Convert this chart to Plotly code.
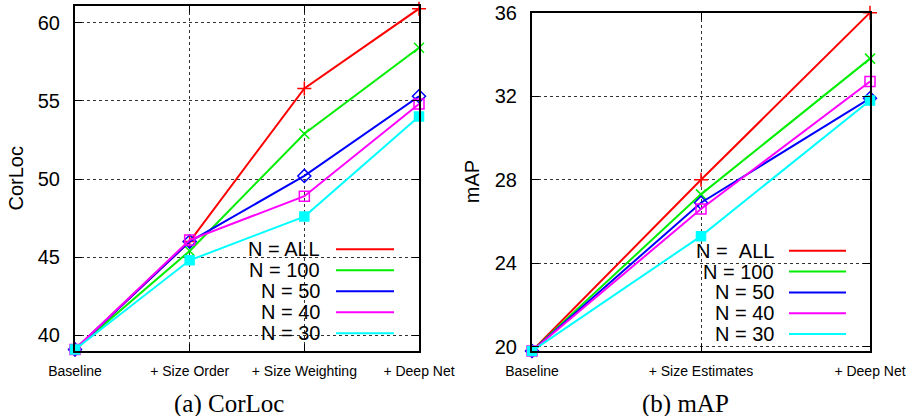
import plotly.graph_objects as go

# ---------------- data ----------------
series_names = ["N = ALL", "N = 100", "N = 50", "N = 40", "N = 30"]
legend_names_b = ["N =\u00a0\u00a0ALL", "N = 100", "N = 50", "N = 40", "N = 30"]
colors = ["#ff0000", "#00ee00", "#0000ff", "#ff00ff", "#00ffff"]
symbols = ["cross-thin-open", "x-thin-open", "diamond-open", "square-open", "square"]

cats_a = ["Baseline", "+ Size Order", "+ Size Weighting", "+ Deep Net"]
corloc_all = [39.1, 46.0, 55.8, 60.9]
corloc_100 = [39.1, 45.4, 52.9, 58.4]
corloc_50 = [39.1, 46.0, 50.2, 55.3]
corloc_40 = [39.1, 46.1, 48.9, 54.8]
corloc_30 = [39.1, 44.8, 47.6, 54.0]

cats_b = ["Baseline", "+ Size Estimates", "+ Deep Net"]
map_all = [19.8, 28.0, 36.0]
map_100 = [19.8, 27.3, 33.8]
map_50 = [19.8, 26.9, 31.9]
map_40 = [19.8, 26.6, 32.7]
map_30 = [19.8, 25.3, 31.8]

corloc_ticks = [40, 45, 50, 55, 60]
map_ticks = [20, 24, 28, 32, 36]

W, H = 914, 416
def X(px):
    return px / W
def Y(py):
    return 1 - py / H

fig = go.Figure()

corloc = [corloc_all, corloc_100, corloc_50, corloc_40, corloc_30]
maps = [map_all, map_100, map_50, map_40, map_30]

for i in range(5):
    fig.add_trace(go.Scatter(
        x=cats_a, y=corloc[i], mode="lines+markers", name=series_names[i],
        line=dict(color=colors[i], width=2),
        marker=dict(symbol=symbols[i], size=10 if i != 4 else 9, color=colors[i],
                    line=dict(color=colors[i], width=1.5)),
        cliponaxis=False, showlegend=False, xaxis="x", yaxis="y"))
for i in range(5):
    fig.add_trace(go.Scatter(
        x=cats_b, y=maps[i], mode="lines+markers", name=series_names[i],
        line=dict(color=colors[i], width=2),
        marker=dict(symbol=symbols[i], size=10 if i != 4 else 9, color=colors[i],
                    line=dict(color=colors[i], width=1.5)),
        cliponaxis=False, showlegend=False, xaxis="x2", yaxis="y2"))

font_sans = "Liberation Sans, Arial, Helvetica, sans-serif"

common_x = dict(showline=True, linewidth=2, linecolor="black", mirror="ticks",
                ticks="inside", ticklen=7, tickwidth=1, tickcolor="black",
                showgrid=True, gridcolor="#333", gridwidth=1, griddash="dot",
                zeroline=False, tickfont=dict(family=font_sans, size=14, color="black"),
                ticklabelstandoff=6, type="category", automargin=False)
common_y = dict(showline=True, linewidth=2, linecolor="black", mirror="ticks",
                ticks="inside", ticklen=7, tickwidth=1, tickcolor="black",
                showgrid=True, gridcolor="#333", gridwidth=1, griddash="dot",
                zeroline=False, tickfont=dict(family=font_sans, size=20, color="black"),
                ticklabelstandoff=9, automargin=False)

fig.update_layout(
    width=W, height=H, margin=dict(l=0, r=0, t=0, b=0, autoexpand=False),
    paper_bgcolor="white", plot_bgcolor="white", showlegend=False,
    xaxis=dict(common_x, domain=[X(75), X(419)], range=[0, 3],
               categoryorder="array", categoryarray=cats_a, anchor="y"),
    yaxis=dict(common_y, domain=[Y(351), Y(6)], range=[39, 61.07],
               tickvals=corloc_ticks, anchor="x"),
    xaxis2=dict(common_x, domain=[X(532), X(870)], range=[0, 2],
                categoryorder="array", categoryarray=cats_b, anchor="y2"),
    yaxis2=dict(common_y, domain=[Y(351), Y(12.7)], range=[19.8, 36],
                tickvals=map_ticks, anchor="x2"),
)

shapes = []
annotations = []

# legend background boxes
shapes.append(dict(type="rect", xref="paper", yref="paper", layer="between",
                   x0=X(240), x1=X(407), y0=Y(349), y1=Y(232),
                   fillcolor="white", line=dict(width=0)))
shapes.append(dict(type="rect", xref="paper", yref="paper", layer="between",
                   x0=X(678), x1=X(858), y0=Y(343), y1=Y(240),
                   fillcolor="white", line=dict(width=0)))

rows_a = [249.3, 270.3, 291.2, 312.2, 333.2]
rows_b = [250.7, 271.6, 292.4, 313.2, 334.0]
for i in range(5):
    annotations.append(dict(xref="paper", yref="paper", x=X(322), y=Y(rows_a[i]),
                            text=series_names[i], showarrow=False, xanchor="right",
                            yanchor="middle", font=dict(family=font_sans, size=20, color="black")))
    shapes.append(dict(type="line", xref="paper", yref="paper", layer="above",
                       x0=X(336), x1=X(394), y0=Y(rows_a[i]), y1=Y(rows_a[i]),
                       line=dict(color=colors[i], width=2)))
    annotations.append(dict(xref="paper", yref="paper", x=X(776), y=Y(rows_b[i]),
                            text=legend_names_b[i], showarrow=False, xanchor="right",
                            yanchor="middle", font=dict(family=font_sans, size=20, color="black")))
    shapes.append(dict(type="line", xref="paper", yref="paper", layer="above",
                       x0=X(789), x1=X(846), y0=Y(rows_b[i]), y1=Y(rows_b[i]),
                       line=dict(color=colors[i], width=2)))

# axis titles
annotations.append(dict(xref="paper", yref="paper", x=X(15), y=Y(178.5), text="CorLoc",
                        textangle=-90, showarrow=False, xanchor="center", yanchor="middle",
                        font=dict(family=font_sans, size=20, color="black")))
annotations.append(dict(xref="paper", yref="paper", x=X(471.5), y=Y(181.7), text="mAP",
                        textangle=-90, showarrow=False, xanchor="center", yanchor="middle",
                        font=dict(family=font_sans, size=20, color="black")))

# captions
font_serif = "Liberation Serif, Times New Roman, serif"
annotations.append(dict(xref="paper", yref="paper", x=X(229.5), y=Y(404), text="(a) CorLoc",
                        showarrow=False, xanchor="center", yanchor="middle",
                        font=dict(family=font_serif, size=25, color="black")))
annotations.append(dict(xref="paper", yref="paper", x=X(685), y=Y(404), text="(b) mAP",
                        showarrow=False, xanchor="center", yanchor="middle",
                        font=dict(family=font_serif, size=25, color="black")))

fig.update_layout(shapes=shapes, annotations=annotations)

fig.write_html("out.html", config={"displayModeBar": False},
               post_script="document.body.style.margin='0';document.body.style.overflow='hidden';")
